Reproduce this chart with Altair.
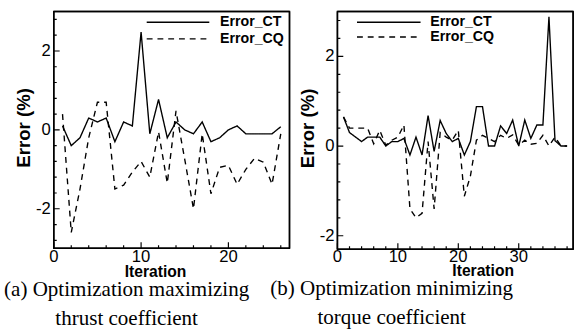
import altair as alt
import pandas as pd

# ---------------- data ----------------
series_names = ["Error_CT", "Error_CQ"]

# (a) maximizing thrust coefficient
a_iter = list(range(1, 27))
a_ct = [0.1, -0.4, -0.2, 0.3, 0.2, 0.3, -0.3, 0.2, 0.1, 2.48, -0.1, 0.77, -0.2,
        0.2, 0.0, -0.1, 0.2, -0.3, -0.2, 0.0, 0.1, -0.1, -0.1, -0.1, -0.1, 0.08]
a_cq = [0.4, -2.6, -1.5, -0.2, 0.7, 0.7, -1.5, -1.4, -1.07, -0.8, -1.2, -0.05, -1.35,
        0.48, -0.75, -2.0, -0.1, -1.62, -0.95, -0.9, -1.38, -1.0, -0.72, -0.82, -1.38, -0.1]

# (b) minimizing torque coefficient
b_iter = list(range(1, 39))
b_ct = [0.65, 0.3, 0.2, 0.1, 0.2, 0.2, 0.2, 0.0, 0.1, 0.1, 0.17, -0.2, 0.2, -0.2,
        0.68, -0.12, 0.57, 0.28, 0.1, 0.17, -0.2, 0.1, 0.88, 0.88, 0.0, 0.0, 0.45,
        0.28, 0.58, 0.0, 0.58, 0.17, 0.47, 0.47, 2.88, 0.12, 0.0, 0.0]
b_cq = [0.65, 0.4, 0.4, 0.4, 0.4, 0.05, 0.35, 0.02, 0.13, 0.2, 0.47, -1.4, -1.6,
        -1.5, 0.1, -1.4, 0.3, 0.2, 0.13, 0.35, -1.12, -0.67, 0.13, 0.24, 0.17, 0.1,
        0.24, 0.17, 0.25, 0.02, 0.13, 0.04, 0.06, 0.24, 0.0, 0.2, 0.0, 0.0]

# tick positions / labels
a_x_labels = [0, 10, 20]
a_x_minor = [2, 4, 6, 8, 12, 14, 16, 18, 22, 24, 26]
a_y_labels = [-2, 0, 2]
a_y_minor = [-2.8, -2.4, -1.6, -1.2, -0.8, -0.4, 0.4, 0.8, 1.2, 1.6, 2.4, 2.8]

b_x_labels = [0, 10, 20, 30]
b_x_minor = [2, 4, 6, 8, 12, 14, 16, 18, 22, 24, 26, 28, 32, 34, 36, 38]
b_y_labels = [-2, 0, 2]
b_y_minor = [-1.6, -1.2, -0.8, -0.4, 0.4, 0.8, 1.2, 1.6, 2.4, 2.8]

x_title = "Iteration"
y_title = "Error (%)"
caption_a = ["(a) Optimization maximizing", "thrust coefficient"]
caption_b = ["(b) Optimization minimizing", "torque coefficient"]

W = 241
FONT = "Liberation Sans"
SOLID = [1, 0]


def panel(iters, ct, cq, H, xdom, ydom, xlab, xminor, ylab, yminor, caption, dx,
          title_x, xlab_dy, xtitle_dy, leg_x0, leg_x1, leg_tx, leg_y):
    lines_df = pd.concat([
        pd.DataFrame({"iteration": iters, "error": ct, "series": series_names[0]}),
        pd.DataFrame({"iteration": iters, "error": cq, "series": series_names[1]}),
    ])
    xs = alt.Scale(domain=xdom, nice=False, zero=False)
    ys = alt.Scale(domain=ydom, nice=False, zero=False)

    lines = alt.Chart(lines_df).mark_line(color="black", strokeWidth=1.4).encode(
        x=alt.X("iteration:Q", scale=xs, axis=None),
        y=alt.Y("error:Q", scale=ys, axis=None),
        strokeDash=alt.StrokeDash("series:N", legend=None,
                                  scale=alt.Scale(domain=series_names,
                                                  range=[SOLID, [6, 5]])),
        order="iteration:Q",
    )

    def rule(df, w=1.2):
        return alt.Chart(df).mark_rule(color="black", strokeWidth=w, strokeDash=SOLID)

    # inner tick marks (Tecplot style)
    ymaj = rule(pd.DataFrame({"t": ylab})).encode(
        y=alt.Y("t:Q", scale=ys, axis=None), x=alt.value(0), x2=alt.value(6))
    ymin = rule(pd.DataFrame({"t": yminor})).encode(
        y=alt.Y("t:Q", scale=ys, axis=None), x=alt.value(0), x2=alt.value(3))
    xmaj = rule(pd.DataFrame({"t": xlab})).encode(
        x=alt.X("t:Q", scale=xs, axis=None), y=alt.value(H), y2=alt.value(H - 6))
    xmin = rule(pd.DataFrame({"t": xminor})).encode(
        x=alt.X("t:Q", scale=xs, axis=None), y=alt.value(H), y2=alt.value(H - 3))

    # tick labels, placed through the same scales
    ylabels = alt.Chart(pd.DataFrame({"t": ylab, "lab": [str(v) for v in ylab]})).mark_text(
        align="right", baseline="middle", font=FONT, fontSize=17, color="black").encode(
        y=alt.Y("t:Q", scale=ys, axis=None), x=alt.value(-3), text="lab:N")
    xlabels = alt.Chart(pd.DataFrame({"t": xlab, "lab": [str(v) for v in xlab]})).mark_text(
        align="center", baseline="middle", font=FONT, fontSize=17, color="black").encode(
        x=alt.X("t:Q", scale=xs, axis=None), y=alt.value(H + xlab_dy), text="lab:N")

    one = pd.DataFrame({"f": [0]})
    xt = alt.Chart(pd.DataFrame({"s": [x_title]})).mark_text(
        align="center", baseline="middle", font=FONT, fontSize=16, fontWeight="bold",
        color="black").encode(x=alt.value(title_x), y=alt.value(H + xtitle_dy), text="s:N")
    yt = alt.Chart(pd.DataFrame({"s": [y_title]})).mark_text(
        align="center", baseline="middle", font=FONT, fontSize=19, fontWeight="bold",
        angle=270, color="black").encode(x=alt.value(-30), y=alt.value(H / 2 - 2),
                                         text="s:N")

    # plot frame from four rules
    fr = [
        rule(one, 1.5).encode(x=alt.value(0), x2=alt.value(W), y=alt.value(0)),
        rule(one, 1.5).encode(x=alt.value(0), x2=alt.value(W), y=alt.value(H)),
        rule(one, 1.5).encode(x=alt.value(0), y=alt.value(0), y2=alt.value(H)),
        rule(one, 1.5).encode(x=alt.value(W), y=alt.value(0), y2=alt.value(H)),
    ]

    leg = []
    dashes = [SOLID, [6, 5]]
    for i, name in enumerate(series_names):
        d = pd.DataFrame({"s": [name]})
        leg.append(alt.Chart(d).mark_rule(color="black", strokeWidth=1.4,
                                          strokeDash=dashes[i]).encode(
            x=alt.value(leg_x0), x2=alt.value(leg_x1), y=alt.value(leg_y[i])))
        leg.append(alt.Chart(d).mark_text(align="left", baseline="middle", font=FONT,
                                          fontSize=14.5, fontWeight="bold",
                                          color="black").encode(
            text="s:N", x=alt.value(leg_tx), y=alt.value(leg_y[i])))

    return alt.layer(lines, ymaj, ymin, xmaj, xmin, ylabels, xlabels, xt, yt,
                     *fr, *leg).properties(
        width=W, height=H,
        title=alt.TitleParams(text=caption, orient="bottom", anchor="middle",
                              frame="group", font="Liberation Serif", fontSize=21.5,
                              fontWeight="normal", lineHeight=30, dx=dx,
                              offset=0, color="black"),
    )


left = panel(a_iter, a_ct, a_cq, 242, [0, 27], [-3, 3], a_x_labels, a_x_minor,
             a_y_labels, a_y_minor, caption_a, -46, 104, 9, 24, 95, 159, 170, [11, 28])
right = panel(b_iter, b_ct, b_cq, 243, [0, 39], [-2.3, 3], b_x_labels, b_x_minor,
              b_y_labels, b_y_minor, caption_b, -65, 149, 8, 22, 20, 85, 95, [11, 26])

chart = alt.hconcat(left, right, spacing=49, bounds="flush").properties(
    padding={"left": 3, "top": 6, "right": 4, "bottom": 2}
).configure_view(stroke="black", strokeWidth=1.5)

chart.save("out.html", embed_options={"renderer": "svg", "actions": False})
